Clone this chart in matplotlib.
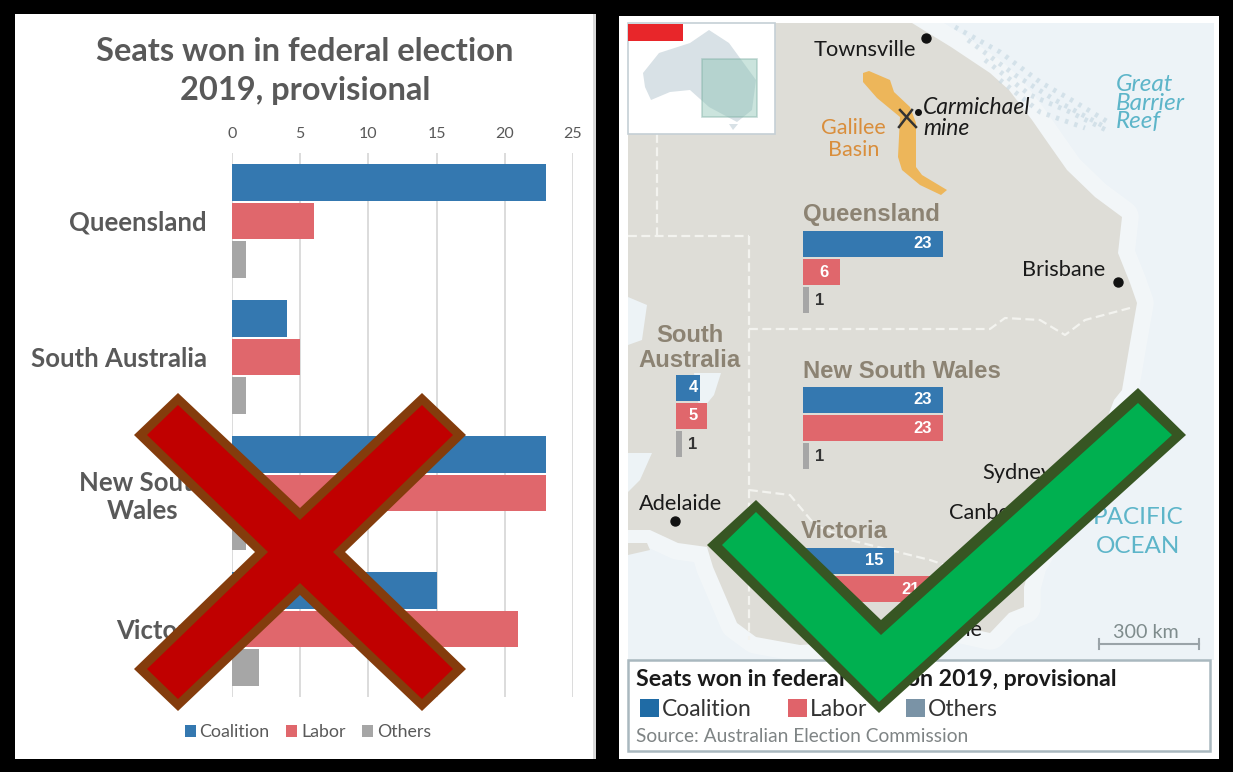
import matplotlib
matplotlib.use("Agg")
import matplotlib.pyplot as plt
from matplotlib.patches import Polygon, Rectangle

W, H = 1233, 772
states = ["Queensland", "South Australia", "New South\nWales", "Victoria"]
coalition = [23, 4, 23, 15]
labor = [6, 5, 23, 21]
others = [1, 1, 1, 2]
series_names = ["Coalition", "Labor", "Others"]
x_ticks = [0, 5, 10, 15, 20, 25]
title_left = "Seats won in federal election\n2019, provisional"
title_right = "Seats won in federal election 2019, provisional"
source = "Source: Australian Election Commission"

BLUE, RED, GREY = "#3478B0", "#E0676C", "#A6A6A6"
colors = [BLUE, RED, GREY]
TXT = "#595959"
SANS = "Lato"
ARIAL = "Liberation Sans"

fig = plt.figure(figsize=(W / 100, H / 100), dpi=100, facecolor="black")

def px_axes(x0, y0, x1, y1, z=1):
    return fig.add_axes([x0 / W, 1 - y1 / H, (x1 - x0) / W, (y1 - y0) / H], zorder=z)

# pixel canvas for backgrounds and the map
bg = px_axes(0, 0, W, H, 0)
bg.set_xlim(0, W); bg.set_ylim(H, 0); bg.axis("off")
bg.add_patch(Rectangle((15, 14), 581, 745, fc="white", ec="none"))
bg.add_patch(Rectangle((593, 14), 3, 745, fc="#D9D9D9", ec="none"))
bg.add_patch(Rectangle((619, 16), 600, 743, fc="white", ec="none"))

# ---------- left: plain bar chart ----------
ax = px_axes(232, 153, 573, 697, 2)
ax.patch.set_alpha(0)
ypos = range(len(states))
for off, vals, c, name in zip((-0.28, 0, 0.28), (coalition, labor, others), colors, series_names):
    ax.barh([y + off for y in ypos], vals, height=0.272, color=c, label=name, zorder=3)
ax.set_xlim(0, 25); ax.set_ylim(3.5, -0.5)
ax.xaxis.tick_top()
ax.set_xticks(x_ticks)
ax.set_yticks(list(ypos))
ax.set_yticklabels(states, fontfamily=SANS, fontweight="bold", fontsize=18.5, color=TXT, multialignment="center")
ax.tick_params(axis="x", length=0, pad=9, labelsize=11.5, labelcolor=TXT)
ax.tick_params(axis="y", length=0, pad=18)
for t in ax.get_xticklabels():
    t.set_fontfamily(SANS)
ax.grid(axis="x", color="#D9D9D9", lw=1.3, zorder=0)
for s in ax.spines.values():
    s.set_visible(False)
ax.legend(loc="center", bbox_to_anchor=(308 / W, 1 - 732 / H), bbox_transform=fig.transFigure, ncol=3,
          frameon=False, handlelength=0.62, handleheight=0.62, handletextpad=0.2, columnspacing=0.95,
          prop={"family": SANS, "size": 12.8}, labelcolor=TXT)
fig.text(305 / W, 1 - 71 / H, title_left, ha="center", va="center", family=SANS, fontweight="bold",
         fontsize=23.5, color=TXT, linespacing=1.42)

# ---------- right: map ----------
OCEAN, LAND = "#EDF3F7", "#DEDDD7"
map_clip = Rectangle((628, 23), 586, 637, transform=bg.transData)
bg.add_patch(Rectangle((628, 23), 586, 637, fc=OCEAN, ec="none"))
coast = [(912, 23), (951, 47), (990, 73), (1009, 90), (1032, 120), (1048, 143), (1067, 170), (1095, 197),
         (1122, 217), (1118, 253), (1130, 283), (1137, 303), (1130, 343), (1122, 390), (1114, 400),
         (1095, 450), (1065, 490), (1050, 530), (1030, 565), (1024, 587), (1024, 607), (1009, 613),
         (990, 633), (940, 622), (880, 640), (800, 645), (756, 637), (737, 623), (713, 567), (707, 547),
         (678, 543), (650, 530), (628, 530)]
xs, ys = zip(*coast)
band, = bg.plot(xs, ys, color="#F5F8F9", lw=24, solid_joinstyle="round", alpha=0.7, zorder=1)
band.set_clip_path(map_clip)
bg.add_patch(Polygon(coast + [(628, 23)], closed=True, fc=LAND, ec="none", zorder=2))
for poly in ([(628, 297), (647, 305), (642, 340), (628, 345)],
             [(694, 373), (721, 373), (714, 395), (700, 412), (697, 395)],
             [(628, 453), (652, 453), (640, 480), (628, 492)]):
    bg.add_patch(Polygon(poly, closed=True, fc="#EDF3F6", ec="none", zorder=3))
bg.add_patch(Polygon([(628, 543), (647, 543), (650, 550), (628, 555)], closed=True, fc=LAND, ec="none", zorder=3))

# reef texture
for line in ([(955, 27), (1000, 52), (1040, 82), (1075, 102), (1108, 122)],
             [(968, 40), (1015, 75), (1055, 100), (1105, 127)],
             [(985, 60), (1030, 95), (1070, 112), (1110, 132)],
             [(1000, 80), (1040, 112), (1085, 128)]):
    rx, ry = zip(*line)
    bg.plot(rx, ry, color="#BFD3DE", lw=3.5, ls=(0, (0.7, 1.3)), alpha=0.55, zorder=3)

# state borders
for line in ([(657, 134), (657, 236)],
             [(628, 236), (749, 236)],
             [(749, 236), (749, 640)],
             [(749, 329), (990, 329), (1005, 318), (1040, 320), (1065, 335), (1085, 320), (1130, 308)],
             [(749, 490), (790, 495), (815, 525), (850, 540), (930, 560), (960, 570)]):
    lx, ly = zip(*line)
    bg.plot(lx, ly, color="#F3F3EF", lw=1.6, ls=(0, (4, 2)), zorder=3)

# Galilee basin
bg.add_patch(Polygon([(863, 73), (869, 71), (890, 80), (894, 92), (910, 107), (916, 123), (916, 167), (922, 175),
                      (947, 190), (941, 195), (920, 185), (902, 170), (898, 157), (900, 117), (877, 98), (863, 82)],
                     closed=True, fc="#EDB65A", ec="none", zorder=4))
bg.plot([900, 916], [110, 127], color="#333333", lw=1.8, zorder=5)
bg.plot([899, 912], [127, 110], color="#333333", lw=1.8, zorder=5)

# inset locator
bg.add_patch(Rectangle((628, 23), 147, 111, fc="white", ec="#C5CFD5", lw=1.2, zorder=5))
bg.add_patch(Polygon([(643, 73), (659, 53), (690, 43), (709, 30), (729, 43), (756, 80), (752, 110), (737, 122),
                      (709, 107), (690, 90), (670, 92), (651, 100), (645, 87)],
                     closed=True, fc="#D8E1E6", ec="none", zorder=6))
bg.add_patch(Polygon([(729, 124), (738, 124), (733, 130)], closed=True, fc="#D8E1E6", ec="none", zorder=6))
bg.add_patch(Rectangle((702, 59), 55, 58, fc="#8CC4B4", alpha=0.45, ec="#7FAFA4", lw=1.2, zorder=7))
bg.add_patch(Rectangle((628, 24), 55, 17, fc="#E8262A", ec="none", zorder=8))

city = {"color": "#1A1A1A", "family": SANS, "fontsize": 15.7, "va": "center", "zorder": 6}
bg.text(814, 50, "Townsville", ha="left", **city)
bg.text(1022, 270, "Brisbane", ha="left", **city)
bg.text(639, 504, "Adelaide", ha="left", **city)
bg.text(982, 473, "Sydney", ha="left", **city)
bg.text(949, 513, "Canberra", ha="left", **city)
bg.text(982, 630, "Melbourne", ha="right", **city)
bg.scatter([926, 1118, 675], [38, 282, 521], s=42, color="#111111", zorder=6)
bg.scatter([918], [112], s=16, color="#111111", zorder=6)
bg.text(923, 118, "Carmichael\nmine", ha="left", va="center", family=SANS, style="italic", fontsize=16.5,
        color="#1A1A1A", linespacing=0.95, zorder=6)
bg.text(886, 139, "Galilee\nBasin", ha="right", va="center", multialignment="center", family=SANS, fontsize=15.5,
        color="#D98E3C", linespacing=1.1, zorder=6)
bg.text(1116, 103, "Great\nBarrier\nReef", ha="left", va="center", family=SANS, style="italic", fontsize=17.5,
        color="#5DB5C9", linespacing=0.85, zorder=6)
bg.text(1138, 532, "PACIFIC\nOCEAN", ha="center", va="center", family=SANS, fontsize=17.5, color="#5DB5C9",
        linespacing=1.5, zorder=6)
bg.text(1146, 632, "300 km", ha="center", va="center", family=SANS, fontsize=14.2, color="#7F8C8D", zorder=6)
bg.plot([1099, 1199], [644, 644], color="#9AA3A8", lw=1.5, zorder=6)
bg.plot([1099, 1099], [639, 649], color="#9AA3A8", lw=1.5, zorder=6)
bg.plot([1199, 1199], [639, 649], color="#9AA3A8", lw=1.5, zorder=6)

st = {"color": "#8C8373", "family": ARIAL, "fontweight": "bold", "fontsize": 17.2, "zorder": 6, "va": "center"}
bg.text(803, 214, "Queensland", ha="left", **st)
bg.text(690, 348, "South\nAustralia", ha="center", linespacing=1.1, **st)
bg.text(803, 372, "New South Wales", ha="left", **st)
bg.text(801, 531, "Victoria", ha="left", **st)

# bar groups on the map (same data, in place)
PX_UNIT = 6.1
group_origin = [(803, 231), (676, 375), (803, 387), (803, 548)]
for i, (x0, y0) in enumerate(group_origin):
    g = px_axes(x0, y0, x0 + PX_UNIT * 23, y0 + 82, 3)
    g.patch.set_alpha(0); g.axis("off")
    g.set_xlim(0, 23); g.set_ylim(2.46, -0.46)
    for row, (vals, c) in enumerate(zip((coalition, labor, others), colors)):
        v = vals[i]
        g.barh(row, v, height=0.9, color=c)
        lab = dict(family=ARIAL, fontweight="bold", fontsize=12, va="center")
        if v <= 2:
            g.annotate(str(v), (v, row), xytext=(6, 0), textcoords="offset pixels", color="#333333", ha="left", **lab)
        elif v <= 5:
            g.annotate(str(v), (0, row), xytext=(17, 0), textcoords="offset pixels", color="white", ha="center", **lab)
        else:
            g.annotate(str(v), (v, row), xytext=(-11, 0), textcoords="offset pixels", color="white", ha="right", **lab)

# legend box
bg.add_patch(Rectangle((628, 660), 582, 91, fc="white", ec="#A9B8BF", lw=1.8, zorder=8))
bg.text(636, 680, title_right, ha="left", va="center", family=SANS, fontweight="bold", fontsize=16.7,
        color="#1A1A1A", zorder=9)
leg_x = [640, 788, 906]
leg_c = ["#1F6BA5", "#E0636A", "#7A93A6"]
for x, c, name in zip(leg_x, leg_c, series_names):
    bg.add_patch(Rectangle((x, 699), 19, 18, fc=c, ec="none", zorder=9))
    bg.text(x + 22, 710, name, ha="left", va="center", family=SANS, fontsize=16.5, color="#333333", zorder=9)
bg.text(636, 737, source, ha="left", va="center", family=SANS, fontsize=13.8, color="#7F8485", zorder=9)

# ---------- verdict marks ----------
over = px_axes(0, 0, W, H, 10)
over.set_xlim(0, W); over.set_ylim(H, 0); over.axis("off"); over.patch.set_alpha(0)
over.add_patch(Polygon([(178, 393), (300, 508), (422, 393), (466, 435), (345, 552), (466, 669), (422, 711),
                        (300, 595), (178, 711), (134, 669), (255, 552), (134, 435)], closed=True, fc="#843C0C", ec="none"))
over.add_patch(Polygon([(178, 405), (300, 520), (422, 405), (453, 435), (333, 552), (453, 669), (422, 699),
                        (300, 583), (178, 699), (147, 669), (268, 552), (147, 435)], closed=True, fc="#C00000", ec="none"))
over.add_patch(Polygon([(756, 500), (881, 620), (1138, 388), (1186, 435), (879, 713), (707, 545)], closed=True,
                       fc="#375623", ec="none"))
over.add_patch(Polygon([(756, 512), (881, 635), (1138, 403), (1172, 435), (879, 702), (722, 545)], closed=True,
                       fc="#00B050", ec="none"))

fig.savefig("out.png", dpi=100, facecolor="black")
